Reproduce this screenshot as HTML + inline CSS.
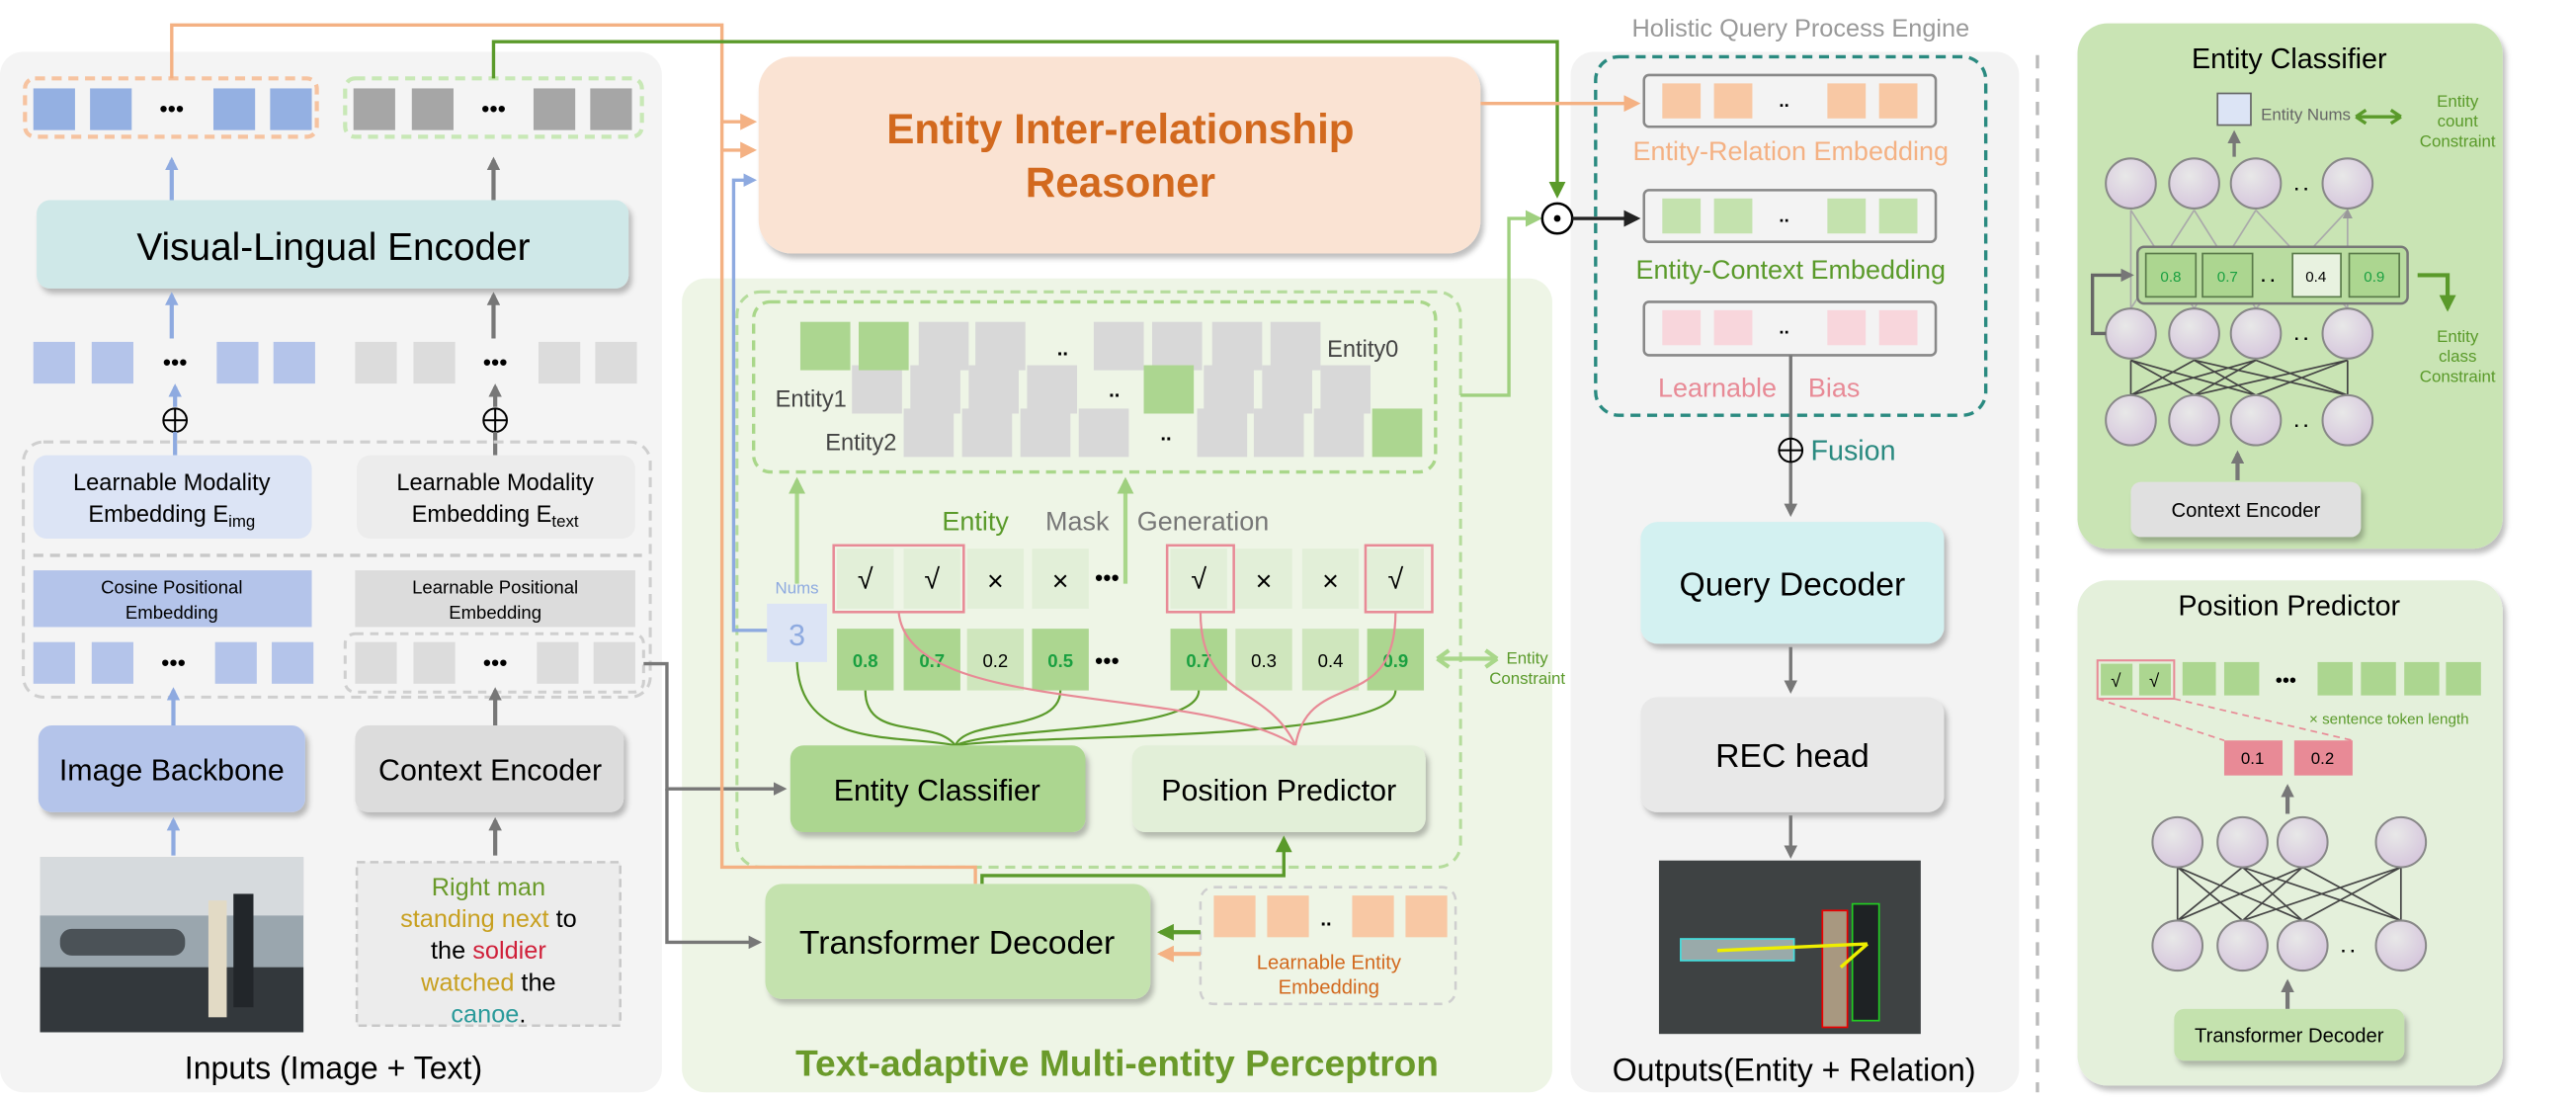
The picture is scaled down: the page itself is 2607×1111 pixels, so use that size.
<!DOCTYPE html>
<html><head><meta charset="utf-8"><style>
html,body{margin:0;padding:0;background:#fff}
svg{display:block}
text{font-family:"Liberation Sans",sans-serif}
</style></head><body>
<svg width="2607" height="1111" viewBox="0 0 1545 658.4" xmlns="http://www.w3.org/2000/svg">
<defs>
<marker id="ab" markerWidth="8" markerHeight="8" refX="6" refY="4" orient="auto" markerUnits="userSpaceOnUse"><path d="M0,0 L8,4 L0,8z" fill="#8eaae0"/></marker>
<marker id="ag" markerWidth="8" markerHeight="8" refX="6" refY="4" orient="auto" markerUnits="userSpaceOnUse"><path d="M0,0 L8,4 L0,8z" fill="#777"/></marker>
<marker id="ao" markerWidth="10" markerHeight="10" refX="8" refY="5" orient="auto" markerUnits="userSpaceOnUse"><path d="M0,0 L10,5 L0,10z" fill="#f4b183"/></marker>
<marker id="agr" markerWidth="10" markerHeight="10" refX="8" refY="5" orient="auto" markerUnits="userSpaceOnUse"><path d="M0,0 L10,5 L0,10z" fill="#5a9a2a"/></marker>
<marker id="alg" markerWidth="10" markerHeight="10" refX="8" refY="5" orient="auto" markerUnits="userSpaceOnUse"><path d="M0,0 L10,5 L0,10z" fill="#9fd07f"/></marker>
<marker id="ak" markerWidth="10" markerHeight="10" refX="8" refY="5" orient="auto" markerUnits="userSpaceOnUse"><path d="M0,0 L10,5 L0,10z" fill="#222"/></marker>
<marker id="as" markerWidth="6" markerHeight="6" refX="5" refY="3" orient="auto" markerUnits="userSpaceOnUse"><path d="M0,0 L6,3 L0,6z" fill="#999"/></marker>
<filter id="sh" x="-5%" y="-5%" width="115%" height="125%"><feDropShadow dx="2" dy="3" stdDeviation="1.5" flood-color="#000" flood-opacity="0.25"/></filter>
<radialGradient id="nr" cx="40%" cy="35%" r="70%"><stop offset="0" stop-color="#e8e8e8"/><stop offset="1" stop-color="#d5c5dc"/></radialGradient>
</defs>

<!-- LEFT PANEL -->
<rect x="0" y="31" width="397" height="624" rx="14" fill="#f4f4f4"/>
<rect x="15" y="47" width="175" height="35" rx="6" fill="none" stroke="#f6c3a0" stroke-width="2.5" stroke-dasharray="6,4"/>
<g fill="#94b0e2"><rect x="20" y="53" width="25" height="25"/><rect x="54" y="53" width="25" height="25"/><rect x="128" y="53" width="25" height="25"/><rect x="162" y="53" width="25" height="25"/></g>
<text x="103" y="70" font-size="14" text-anchor="middle">•••</text>
<rect x="207" y="47" width="178" height="35" rx="6" fill="none" stroke="#c8e8b6" stroke-width="2.5" stroke-dasharray="6,4"/>
<g fill="#a6a6a6"><rect x="212" y="53" width="25" height="25"/><rect x="247" y="53" width="25" height="25"/><rect x="320" y="53" width="25" height="25"/><rect x="354" y="53" width="25" height="25"/></g>
<text x="296" y="70" font-size="14" text-anchor="middle">•••</text>
<line x1="103" y1="120" x2="103" y2="96" stroke="#8eaae0" stroke-width="2.5" marker-end="url(#ab)"/>
<line x1="296" y1="120" x2="296" y2="96" stroke="#777" stroke-width="2.5" marker-end="url(#ag)"/>
<rect x="22" y="120" width="355" height="53" rx="8" fill="#cfe8e8" filter="url(#sh)"/>
<text x="200" y="156" font-size="23" text-anchor="middle">Visual-Lingual Encoder</text>
<line x1="103" y1="203" x2="103" y2="177" stroke="#8eaae0" stroke-width="2.5" marker-end="url(#ab)"/>
<line x1="296" y1="203" x2="296" y2="177" stroke="#777" stroke-width="2.5" marker-end="url(#ag)"/>
<g fill="#b4c4ea"><rect x="20" y="205" width="25" height="25"/><rect x="55" y="205" width="25" height="25"/><rect x="130" y="205" width="25" height="25"/><rect x="164" y="205" width="25" height="25"/></g>
<g fill="#dcdcdc"><rect x="213" y="205" width="25" height="25"/><rect x="248" y="205" width="25" height="25"/><rect x="323" y="205" width="25" height="25"/><rect x="357" y="205" width="25" height="25"/></g>
<text x="105" y="222" font-size="14" text-anchor="middle">•••</text><text x="297" y="222" font-size="14" text-anchor="middle">•••</text>
<line x1="105" y1="244" x2="105" y2="232" stroke="#8eaae0" stroke-width="2.5" marker-end="url(#ab)"/>
<line x1="297" y1="244" x2="297" y2="232" stroke="#777" stroke-width="2.5" marker-end="url(#ag)"/>
<circle cx="105" cy="252" r="7" fill="none" stroke="#000" stroke-width="1.2"/><path d="M98,252h14M105,245v14" stroke="#000" stroke-width="1.2"/>
<circle cx="297" cy="252" r="7" fill="none" stroke="#000" stroke-width="1.2"/><path d="M290,252h14M297,245v14" stroke="#000" stroke-width="1.2"/>
<line x1="105" y1="259" x2="105" y2="273" stroke="#8eaae0" stroke-width="2.5"/><line x1="297" y1="259" x2="297" y2="273" stroke="#777" stroke-width="2.5"/>
<rect x="14" y="265" width="376" height="153" rx="12" fill="none" stroke="#cfcfcf" stroke-width="1.8" stroke-dasharray="6,4"/>
<rect x="20" y="273" width="167" height="50" rx="8" fill="#dce4f5"/>
<text x="103" y="294" font-size="14" text-anchor="middle">Learnable Modality</text>
<text x="103" y="313" font-size="14" text-anchor="middle">Embedding E<tspan font-size="10" dy="3">img</tspan></text>
<rect x="214" y="273" width="167" height="50" rx="8" fill="#ececec"/>
<text x="297" y="294" font-size="14" text-anchor="middle">Learnable Modality</text>
<text x="297" y="313" font-size="14" text-anchor="middle">Embedding E<tspan font-size="10" dy="3">text</tspan></text>
<line x1="20" y1="333" x2="385" y2="333" stroke="#c8c8c8" stroke-width="2" stroke-dasharray="6,4"/>
<rect x="20" y="342" width="167" height="34" fill="#b4c4ea"/>
<text x="103" y="356" font-size="11" text-anchor="middle">Cosine Positional</text><text x="103" y="371" font-size="11" text-anchor="middle">Embedding</text>
<rect x="213" y="342" width="168" height="34" fill="#dcdcdc"/>
<text x="297" y="356" font-size="11" text-anchor="middle">Learnable Positional</text><text x="297" y="371" font-size="11" text-anchor="middle">Embedding</text>
<g fill="#b4c4ea"><rect x="20" y="385" width="25" height="25"/><rect x="55" y="385" width="25" height="25"/><rect x="129" y="385" width="25" height="25"/><rect x="163" y="385" width="25" height="25"/></g>
<rect x="207" y="380" width="179" height="35" rx="6" fill="none" stroke="#cfcfcf" stroke-width="1.8" stroke-dasharray="5,4"/>
<g fill="#dcdcdc"><rect x="213" y="385" width="25" height="25"/><rect x="248" y="385" width="25" height="25"/><rect x="322" y="385" width="25" height="25"/><rect x="356" y="385" width="25" height="25"/></g>
<text x="104" y="402" font-size="14" text-anchor="middle">•••</text><text x="297" y="402" font-size="14" text-anchor="middle">•••</text>
<line x1="104" y1="435" x2="104" y2="414" stroke="#8eaae0" stroke-width="2.5" marker-end="url(#ab)"/>
<line x1="297" y1="435" x2="297" y2="414" stroke="#777" stroke-width="2.5" marker-end="url(#ag)"/>
<rect x="23" y="435" width="160" height="52" rx="8" fill="#b4c4ea" filter="url(#sh)"/>
<text x="103" y="468" font-size="18" text-anchor="middle">Image Backbone</text>
<rect x="213" y="435" width="161" height="52" rx="8" fill="#dcdcdc" filter="url(#sh)"/>
<text x="294" y="468" font-size="18" text-anchor="middle">Context Encoder</text>
<line x1="104" y1="513" x2="104" y2="492" stroke="#8eaae0" stroke-width="2.5" marker-end="url(#ab)"/>
<line x1="297" y1="513" x2="297" y2="492" stroke="#777" stroke-width="2.5" marker-end="url(#ag)"/>
<rect x="24" y="514" width="158" height="105" fill="#9aa6ae"/>
<rect x="24" y="514" width="158" height="35" fill="#d6dadd"/>
<rect x="24" y="580" width="158" height="39" fill="#33383c"/>
<rect x="36" y="557" width="75" height="16" rx="7" fill="#4b5257"/>
<rect x="125" y="540" width="11" height="70" fill="#e2dac5"/><rect x="140" y="536" width="12" height="68" fill="#22262a"/>
<rect x="214" y="517" width="158" height="98" fill="#ececec" stroke="#c8c8c8" stroke-width="1.5" stroke-dasharray="5,3"/>
<g font-size="15" text-anchor="middle">
<text x="293" y="537" fill="#6a9a2a">Right man</text>
<text x="293" y="556"><tspan fill="#c8a020">standing next</tspan> to</text>
<text x="293" y="575">the <tspan fill="#d0203a">soldier</tspan></text>
<text x="293" y="594"><tspan fill="#c8a020">watched</tspan> the</text>
<text x="293" y="613"><tspan fill="#2a9a9a">canoe</tspan>.</text>
</g>
<text x="200" y="647" font-size="19" text-anchor="middle">Inputs (Image + Text)</text>

<!-- top connectors -->
<polyline points="103,47 103,15 433,15 433,73 452,73" fill="none" stroke="#f4b183" stroke-width="2" marker-end="url(#ao)"/>
<polyline points="296,47 296,25 934,25 934,117" fill="none" stroke="#5a9a2a" stroke-width="2" marker-end="url(#agr)"/>

<!-- REASONER -->
<rect x="455" y="34" width="433" height="118" rx="20" fill="#fae3d3" filter="url(#sh)"/>
<text x="672" y="86" font-size="25" font-weight="bold" fill="#d2691e" text-anchor="middle">Entity Inter-relationship</text>
<text x="672" y="118" font-size="25" font-weight="bold" fill="#d2691e" text-anchor="middle">Reasoner</text>

<!-- GREEN PANEL -->
<rect x="409" y="167" width="522" height="488" rx="14" fill="#eef5e6"/>
<rect x="442" y="175" width="434" height="345" rx="14" fill="none" stroke="#b5dc9c" stroke-width="1.8" stroke-dasharray="6,4"/>
<rect x="452" y="181" width="409" height="102" rx="10" fill="none" stroke="#a9d78a" stroke-width="2" stroke-dasharray="6,4"/>
<g fill="#d8d8d8">
<rect x="551" y="193" width="30" height="29"/><rect x="585" y="193" width="30" height="29"/><rect x="656" y="193" width="30" height="29"/><rect x="691" y="193" width="30" height="29"/><rect x="727" y="193" width="30" height="29"/><rect x="762" y="193" width="30" height="29"/>
<rect x="511" y="219" width="30" height="29"/><rect x="546" y="219" width="30" height="29"/><rect x="581" y="219" width="30" height="29"/><rect x="616" y="219" width="30" height="29"/><rect x="722" y="219" width="30" height="29"/><rect x="757" y="219" width="30" height="29"/><rect x="792" y="219" width="30" height="29"/>
<rect x="542" y="245" width="30" height="29"/><rect x="577" y="245" width="30" height="29"/><rect x="612" y="245" width="30" height="29"/><rect x="647" y="245" width="30" height="29"/><rect x="718" y="245" width="30" height="29"/><rect x="752" y="245" width="30" height="29"/><rect x="788" y="245" width="30" height="29"/>
</g>
<g fill="#acd690"><rect x="480" y="193" width="30" height="29"/><rect x="515" y="193" width="30" height="29"/><rect x="686" y="219" width="30" height="29"/><rect x="823" y="245" width="30" height="29"/></g>
<g font-size="14" fill="#444"><text x="796" y="214">Entity0</text><text x="465" y="244">Entity1</text><text x="495" y="270">Entity2</text></g>
<g font-size="12" font-weight="bold"><text x="634" y="213">..</text><text x="665" y="238">..</text><text x="696" y="264">..</text></g>
<line x1="478" y1="350" x2="478" y2="288" stroke="#a9d78a" stroke-width="2.5" marker-end="url(#alg)"/>
<line x1="675" y1="350" x2="675" y2="288" stroke="#a9d78a" stroke-width="2.5" marker-end="url(#alg)"/>
<text x="565" y="318" font-size="16" fill="#5a9a2a">Entity</text><text x="627" y="318" font-size="16" fill="#777">Mask</text><text x="682" y="318" font-size="16" fill="#777">Generation</text>
<g fill="#e2efd8">
<rect x="502" y="329" width="34" height="36"/><rect x="542" y="329" width="34" height="36"/><rect x="580" y="329" width="34" height="36"/><rect x="619" y="329" width="34" height="36"/>
<rect x="702" y="329" width="34" height="36"/><rect x="741" y="329" width="34" height="36"/><rect x="781" y="329" width="34" height="36"/><rect x="820" y="329" width="34" height="36"/></g>
<g fill="none" stroke="#e88a96" stroke-width="1.5"><rect x="500" y="327" width="78" height="40"/><rect x="700" y="327" width="40" height="40"/><rect x="819" y="327" width="40" height="40"/></g>
<g font-size="17" text-anchor="middle"><text x="519" y="353">√</text><text x="559" y="353">√</text><text x="597" y="354">×</text><text x="636" y="354">×</text><text x="719" y="353">√</text><text x="758" y="354">×</text><text x="798" y="354">×</text><text x="837" y="353">√</text></g>
<text x="664" y="351" font-size="14" text-anchor="middle">•••</text>
<g fill="#acd690"><rect x="502" y="377" width="34" height="37"/><rect x="542" y="377" width="34" height="37"/><rect x="619" y="377" width="34" height="37"/><rect x="702" y="377" width="34" height="37"/><rect x="820" y="377" width="34" height="37"/></g>
<g fill="#cfe6bd"><rect x="580" y="377" width="34" height="37"/><rect x="741" y="377" width="34" height="37"/><rect x="781" y="377" width="34" height="37"/></g>
<g font-size="11" text-anchor="middle"><g fill="#1aa040" font-weight="bold"><text x="519" y="400">0.8</text><text x="559" y="400">0.7</text><text x="636" y="400">0.5</text><text x="719" y="400">0.7</text><text x="837" y="400">0.9</text></g><text x="597" y="400">0.2</text><text x="758" y="400">0.3</text><text x="798" y="400">0.4</text></g>
<text x="664" y="401" font-size="14" text-anchor="middle">•••</text>
<path d="M862,395 H898 M862,395 l7,-5 M862,395 l7,5 M898,395 l-7,-5 M898,395 l-7,5" stroke="#a9d78a" stroke-width="2.5" fill="none"/>
<text x="916" y="398" font-size="10" fill="#5a9a2a" text-anchor="middle">Entity</text><text x="916" y="410" font-size="10" fill="#5a9a2a" text-anchor="middle">Constraint</text>
<text x="478" y="356" font-size="10" fill="#8eaae0" text-anchor="middle">Nums</text>
<rect x="460" y="362" width="36" height="35" fill="#dce4f5"/><text x="478" y="387" font-size="18" fill="#8eaae0" text-anchor="middle">3</text>
<polyline points="460,378 440,378 440,108 452,108" fill="none" stroke="#8eaae0" stroke-width="2" marker-end="url(#ab)"/>
<g fill="none" stroke="#5a9a2a" stroke-width="1.3">
<path d="M478,397 C480,450 540,440 573,447"/><path d="M519,414 C519,445 560,430 573,447"/><path d="M636,414 C636,440 580,430 573,447"/><path d="M719,414 C719,440 600,435 573,447"/><path d="M837,414 C837,445 620,440 573,447"/>
</g>
<g fill="none" stroke="#e88a96" stroke-width="1.3">
<path d="M539,367 C545,430 720,410 777,447"/><path d="M720,367 C720,420 760,410 777,447"/><path d="M837,367 C837,430 785,400 777,447"/>
</g>
<rect x="474" y="447" width="177" height="52" rx="8" fill="#acd690" filter="url(#sh)"/>
<text x="562" y="480" font-size="18" text-anchor="middle">Entity Classifier</text>
<rect x="679" y="447" width="176" height="52" rx="8" fill="#e2efd8" filter="url(#sh)"/>
<text x="767" y="480" font-size="18" text-anchor="middle">Position Predictor</text>
<polyline points="386,398 400,398 400,473 470,473" fill="none" stroke="#777" stroke-width="2" marker-end="url(#ag)"/>
<polyline points="400,473 400,565 455,565" fill="none" stroke="#777" stroke-width="2" marker-end="url(#ag)"/>
<polyline points="433,73 433,90 452,90" fill="none" stroke="#f4b183" stroke-width="2" marker-end="url(#ao)"/>
<polyline points="433,90 433,520 585,520 585,530" fill="none" stroke="#f4b183" stroke-width="2"/>
<polyline points="589,530 589,525 770,525 770,503" fill="none" stroke="#5a9a2a" stroke-width="2" marker-end="url(#agr)"/>
<rect x="459" y="530" width="231" height="69" rx="10" fill="#c4e2ae" filter="url(#sh)"/>
<text x="574" y="572" font-size="20" text-anchor="middle">Transformer Decoder</text>
<rect x="720" y="532" width="153" height="70" rx="8" fill="none" stroke="#cfcfcf" stroke-width="1.5" stroke-dasharray="5,4"/>
<g fill="#f8c8a4"><rect x="728" y="537" width="25" height="25"/><rect x="760" y="537" width="25" height="25"/><rect x="811" y="537" width="25" height="25"/><rect x="843" y="537" width="25" height="25"/></g>
<text x="792" y="555" font-size="12" font-weight="bold">..</text>
<text x="797" y="581" font-size="12" fill="#d2691e" text-anchor="middle">Learnable Entity</text><text x="797" y="596" font-size="12" fill="#d2691e" text-anchor="middle">Embedding</text>
<line x1="720" y1="559" x2="696" y2="559" stroke="#5a9a2a" stroke-width="2.5" marker-end="url(#agr)"/>
<line x1="720" y1="572" x2="696" y2="572" stroke="#f4b183" stroke-width="2.5" marker-end="url(#ao)"/>
<text x="670" y="645" font-size="22" font-weight="bold" fill="#6a9a2a" text-anchor="middle">Text-adaptive Multi-entity Perceptron</text>

<!-- HOLISTIC -->
<rect x="942" y="31" width="269" height="624" rx="14" fill="#f3f3f3"/>
<text x="1080" y="22" font-size="15" fill="#999" text-anchor="middle">Holistic Query Process Engine</text>
<rect x="957" y="34" width="234" height="215" rx="14" fill="none" stroke="#2a8a80" stroke-width="2" stroke-dasharray="6,4"/>
<polyline points="888,62 982,62" fill="none" stroke="#f4b183" stroke-width="2" marker-end="url(#ao)"/>
<polyline points="876,237 905,237 905,131 923,131" fill="none" stroke="#9fd07f" stroke-width="2" marker-end="url(#alg)"/>
<circle cx="934" cy="131" r="9" fill="#fff" stroke="#000" stroke-width="1.5"/><circle cx="934" cy="131" r="2" fill="#000"/>
<line x1="943" y1="131" x2="982" y2="131" stroke="#222" stroke-width="2" marker-end="url(#ak)"/>
<g fill="none" stroke="#888" stroke-width="1.5"><rect x="986" y="45" width="175" height="31" rx="3"/><rect x="986" y="114" width="175" height="31" rx="3"/><rect x="986" y="181" width="175" height="32" rx="3"/></g>
<g fill="#f8c8a4"><rect x="997" y="50" width="23" height="21"/><rect x="1028" y="50" width="23" height="21"/><rect x="1096" y="50" width="23" height="21"/><rect x="1127" y="50" width="23" height="21"/></g>
<g fill="#c4e2ae"><rect x="997" y="119" width="23" height="21"/><rect x="1028" y="119" width="23" height="21"/><rect x="1096" y="119" width="23" height="21"/><rect x="1127" y="119" width="23" height="21"/></g>
<g fill="#f8d6dc"><rect x="997" y="186" width="23" height="21"/><rect x="1028" y="186" width="23" height="21"/><rect x="1096" y="186" width="23" height="21"/><rect x="1127" y="186" width="23" height="21"/></g>
<g font-size="11" font-weight="bold"><text x="1067" y="64">..</text><text x="1067" y="133">..</text><text x="1067" y="200">..</text></g>
<text x="1074" y="96" font-size="16" fill="#f4b183" text-anchor="middle">Entity-Relation Embedding</text>
<text x="1074" y="167" font-size="16" fill="#5a9a2a" text-anchor="middle">Entity-Context Embedding</text>
<text x="1030" y="238" font-size="16" fill="#e88a96" text-anchor="middle">Learnable</text><text x="1100" y="238" font-size="16" fill="#e88a96" text-anchor="middle">Bias</text>
<line x1="1074" y1="213" x2="1074" y2="308" stroke="#777" stroke-width="2" marker-end="url(#ag)"/>
<circle cx="1074" cy="270" r="7" fill="#f3f3f3" stroke="#000" stroke-width="1.2"/><path d="M1067,270h14M1074,263v14" stroke="#000" stroke-width="1.2"/>
<text x="1086" y="276" font-size="17" fill="#2a8a80">Fusion</text>
<rect x="984" y="313" width="182" height="73" rx="10" fill="#d3f1f1" filter="url(#sh)"/>
<text x="1075" y="357" font-size="20" text-anchor="middle">Query Decoder</text>
<line x1="1074" y1="388" x2="1074" y2="414" stroke="#777" stroke-width="2" marker-end="url(#ag)"/>
<rect x="984" y="418" width="182" height="69" rx="10" fill="#e8e8e8" filter="url(#sh)"/>
<text x="1075" y="460" font-size="20" text-anchor="middle">REC head</text>
<line x1="1074" y1="489" x2="1074" y2="513" stroke="#777" stroke-width="2" marker-end="url(#ag)"/>
<rect x="995" y="516" width="157" height="104" fill="#3e4243"/>
<rect x="1008" y="563" width="68" height="13" fill="#9aa" stroke="#4dd" stroke-width="1"/>
<rect x="1093" y="546" width="15" height="70" fill="#a89880" stroke="#e00" stroke-width="1"/>
<rect x="1111" y="542" width="16" height="70" fill="#1e2224" stroke="#2c2" stroke-width="1"/>
<path d="M1120,566 L1030,570" stroke="#ee0" stroke-width="2"/><path d="M1120,566 L1104,580" stroke="#ee0" stroke-width="2"/>
<text x="1076" y="648" font-size="19" text-anchor="middle">Outputs(Entity + Relation)</text>

<line x1="1222" y1="33" x2="1222" y2="655" stroke="#bbb" stroke-width="2" stroke-dasharray="8,6"/>

<!-- ENTITY CLASSIFIER PANEL -->
<rect x="1246" y="14" width="255" height="315" rx="18" fill="#c9e4b4" filter="url(#sh)"/>
<text x="1373" y="41" font-size="17" text-anchor="middle">Entity Classifier</text>
<rect x="1330" y="56" width="20" height="19" fill="#dce4f5" stroke="#666" stroke-width="1"/>
<text x="1356" y="72" font-size="10" fill="#666">Entity Nums</text>
<path d="M1413,70 H1440 M1413,70 l6,-4 M1413,70 l6,4 M1440,70 l-6,-4 M1440,70 l-6,4" stroke="#5a9a2a" stroke-width="2" fill="none"/>
<g font-size="10" fill="#5a9a2a" text-anchor="middle"><text x="1474" y="64">Entity</text><text x="1474" y="76">count</text><text x="1474" y="88">Constraint</text></g>
<line x1="1340" y1="94" x2="1340" y2="80" stroke="#777" stroke-width="2" marker-end="url(#ag)"/>
<g stroke="#aaa" stroke-width="1" fill="none">
<path d="M1278,185 L1278,126 M1278,185 L1316,126 M1316,185 L1278,126 M1316,185 L1353,126 M1353,185 L1316,126 M1353,185 L1408,126 M1408,185 L1353,126 M1408,185 L1408,126" marker-end="url(#as)"/></g>
<g stroke="#444" stroke-width="1" fill="none"><path d="M1278,237 L1278,216 M1278,237 L1316,216 M1278,237 L1353,216 M1316,237 L1278,216 M1316,237 L1353,216 M1316,237 L1408,216 M1353,237 L1278,216 M1353,237 L1316,216 M1353,237 L1408,216 M1408,237 L1316,216 M1408,237 L1353,216 M1408,237 L1408,216"/></g>
<rect x="1282" y="148" width="162" height="34" rx="4" fill="#b9dca0" stroke="#777" stroke-width="1.5"/>
<g stroke="#5a7a4a" stroke-width="1"><rect x="1287" y="152" width="30" height="26" fill="#acd690"/><rect x="1321" y="152" width="30" height="26" fill="#acd690"/><rect x="1375" y="152" width="29" height="26" fill="#e8f2e0"/><rect x="1409" y="152" width="30" height="26" fill="#acd690"/></g>
<g font-size="9" text-anchor="middle"><text x="1302" y="169" fill="#1aa040">0.8</text><text x="1336" y="169" fill="#1aa040">0.7</text><text x="1389" y="169">0.4</text><text x="1424" y="169" fill="#1aa040">0.9</text></g>
<text x="1356" y="169" font-size="10" font-weight="bold">. .</text>
<g fill="url(#nr)" stroke="#888" stroke-width="1.2">
<circle cx="1278" cy="110" r="15"/><circle cx="1316" cy="110" r="15"/><circle cx="1353" cy="110" r="15"/><circle cx="1408" cy="110" r="15"/>
<circle cx="1278" cy="200" r="15"/><circle cx="1316" cy="200" r="15"/><circle cx="1353" cy="200" r="15"/><circle cx="1408" cy="200" r="15"/>
<circle cx="1278" cy="252" r="15"/><circle cx="1316" cy="252" r="15"/><circle cx="1353" cy="252" r="15"/><circle cx="1408" cy="252" r="15"/></g>
<g font-size="10" font-weight="bold"><text x="1376" y="114">. .</text><text x="1376" y="204">. .</text><text x="1376" y="256">. .</text></g>
<polyline points="1263,200 1255,200 1255,165 1278,165" fill="none" stroke="#666" stroke-width="2" marker-end="url(#ag)"/>
<polyline points="1450,165 1468,165 1468,185" fill="none" stroke="#5a9a2a" stroke-width="2.5" marker-end="url(#agr)"/>
<g font-size="10" fill="#5a9a2a" text-anchor="middle"><text x="1474" y="205">Entity</text><text x="1474" y="217">class</text><text x="1474" y="229">Constraint</text></g>
<line x1="1342" y1="288" x2="1342" y2="272" stroke="#777" stroke-width="2.5" marker-end="url(#ag)"/>
<rect x="1278" y="289" width="138" height="33" rx="6" fill="#e0e0e0" filter="url(#sh)"/>
<text x="1347" y="310" font-size="12" text-anchor="middle">Context Encoder</text>

<!-- POSITION PREDICTOR PANEL -->
<rect x="1246" y="348" width="255" height="303" rx="18" fill="#e4f0db" filter="url(#sh)"/>
<text x="1373" y="369" font-size="17" text-anchor="middle">Position Predictor</text>
<g fill="#acd690"><rect x="1260" y="398" width="19" height="19"/><rect x="1283" y="398" width="19" height="19"/><rect x="1309" y="397" width="20" height="20"/><rect x="1334" y="397" width="21" height="20"/><rect x="1390" y="397" width="21" height="20"/><rect x="1416" y="397" width="21" height="20"/><rect x="1442" y="397" width="21" height="20"/><rect x="1467" y="397" width="21" height="20"/></g>
<rect x="1258" y="396" width="46" height="23" fill="none" stroke="#e88a96" stroke-width="1.2"/>
<g font-size="11" text-anchor="middle"><text x="1269" y="412">√</text><text x="1292" y="412">√</text></g>
<text x="1371" y="412" font-size="12" text-anchor="middle">•••</text>
<path d="M1258,419 L1334,444 M1304,419 L1411,444" stroke="#e88a96" stroke-width="1" stroke-dasharray="4,3"/>
<text x="1385" y="434" font-size="9" fill="#5a9a2a">× sentence token length</text>
<g fill="#e88a96"><rect x="1334" y="444" width="35" height="21"/><rect x="1376" y="444" width="35" height="21"/></g>
<g font-size="10" text-anchor="middle"><text x="1351" y="458">0.1</text><text x="1393" y="458">0.2</text></g>
<line x1="1372" y1="488" x2="1372" y2="472" stroke="#777" stroke-width="2.5" marker-end="url(#ag)"/>
<g stroke="#444" stroke-width="1" fill="none"><path d="M1306,552 L1306,520 M1306,552 L1345,520 M1306,552 L1381,520 M1345,552 L1306,520 M1345,552 L1381,520 M1345,552 L1440,520 M1381,552 L1306,520 M1381,552 L1345,520 M1381,552 L1440,520 M1440,552 L1381,520 M1440,552 L1345,520 M1440,552 L1440,520"/></g>
<g fill="url(#nr)" stroke="#888" stroke-width="1.2">
<circle cx="1306" cy="505" r="15"/><circle cx="1345" cy="505" r="15"/><circle cx="1381" cy="505" r="15"/><circle cx="1440" cy="505" r="15"/>
<circle cx="1306" cy="567" r="15"/><circle cx="1345" cy="567" r="15"/><circle cx="1381" cy="567" r="15"/><circle cx="1440" cy="567" r="15"/></g>
<text x="1404" y="571" font-size="10" font-weight="bold">. .</text>
<line x1="1372" y1="605" x2="1372" y2="589" stroke="#777" stroke-width="2.5" marker-end="url(#ag)"/>
<rect x="1304" y="605" width="138" height="31" rx="6" fill="#c4e2ae" filter="url(#sh)"/>
<text x="1373" y="625" font-size="12" text-anchor="middle">Transformer Decoder</text>
</svg>
</body></html>
